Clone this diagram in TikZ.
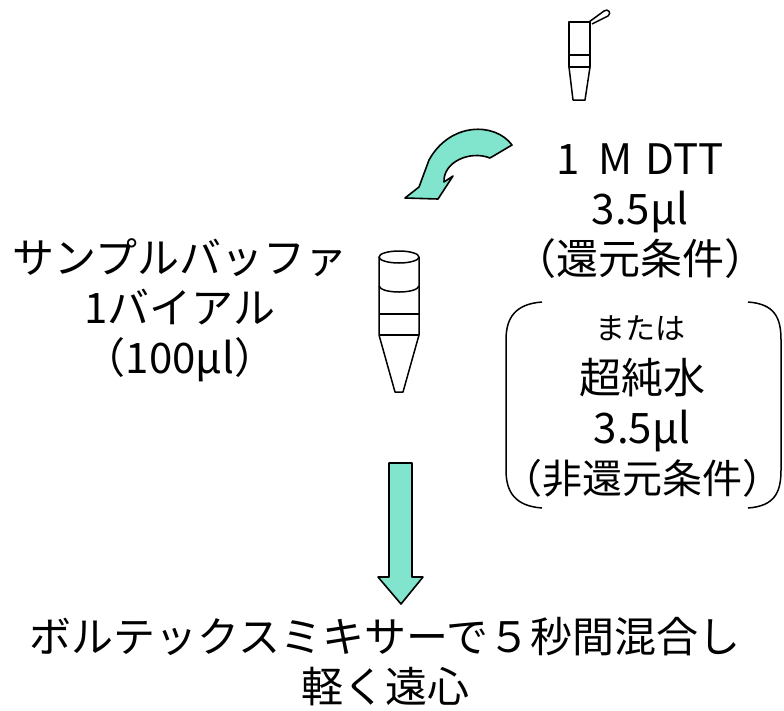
\documentclass[tikz,border=0pt]{standalone}
\usepackage{fontspec}
\setmainfont{Noto Sans CJK JP}
\definecolor{mint}{RGB}{128,229,204}

\tikzset{
  tube/.style={line width=1.5pt, line join=round},
  bigarrow/.style={draw=black, line width=1.6pt, fill=mint, line join=round},
  txt/.style={align=center, inner sep=0pt, font=\fontsize{42}{50}\selectfont},
  smalltxt/.style={align=center, inner sep=0pt, font=\fontsize{30}{36}\selectfont},
}

\begin{document}
\begin{tikzpicture}[x=1pt, y=-1pt]
\useasboundingbox (0,0) rectangle (784,710);

% DTT tube with its cap open
\begin{scope}[shift={(569,22)}]
  \draw[tube] (0,0) rectangle (21,45);
  \draw[tube] (0,33) -- (21,33);
  \draw[tube] (0,45) -- (4,78) -- (16,78) -- (21,45);
  \draw[tube] (20,0) -- (35,-11) .. controls (39,-14) and (43,-9) .. (39,-6) -- (23,2);
\end{scope}

% sample buffer vial
\begin{scope}[shift={(379,257)}]
  \draw[tube] (0,0) -- (0,78) -- (16,135) -- (24,135) -- (40,78) -- (40,0);
  \draw[tube] (20,0) ellipse [x radius=20pt, y radius=6pt];
  \draw[tube] (0,29) .. controls (2,37) and (38,37) .. (40,29);
  \draw[tube] (0,57) -- (40,57);
  \draw[tube] (0,78) -- (40,78);
\end{scope}

\draw[bigarrow] (512,145) .. controls (495,122) and (450,122) .. (429,160) -- (419,187)
  -- (405,198) -- (438,199) -- (453,176) -- (444,182)
  .. controls (443,162) and (470,150) .. (490,158) -- cycle;

\draw[bigarrow] (389,463) -- (412,463) -- (412,577) -- (423,577) -- (401,604)
  -- (378,577) -- (389,577) -- cycle;

\node[txt] (sample) at (180,310) {サンプルバッファ\\1バイアル\\（100μl）};
\node[txt] (dtt) at (640,211) {1\hspace{0.45em}M\hspace{0.3em}DTT\\3.5μl\\（還元条件）};
\node[smalltxt] (or) at (640,328) {または};
\node[txt] (water) at (642,428)
  {超純水\\3.5μl\\\fontsize{40}{50}\selectfont\hspace*{-0.3em}（非還元条件）\hspace*{-0.3em}};
\node[txt] (mix) at (385,662) {ボルテックスミキサーで５秒間混合し\\軽く遠心};

% round brackets around the water option
\draw[line width=1.5pt] (542,302) .. controls (515,304) and (506,318) .. (506,340)
  -- (506,470) .. controls (506,492) and (515,506) .. (542,508);
\draw[line width=1.5pt] (748,302) .. controls (775,304) and (781,318) .. (781,340)
  -- (781,470) .. controls (781,492) and (775,506) .. (748,508);
\end{tikzpicture}
\end{document}
